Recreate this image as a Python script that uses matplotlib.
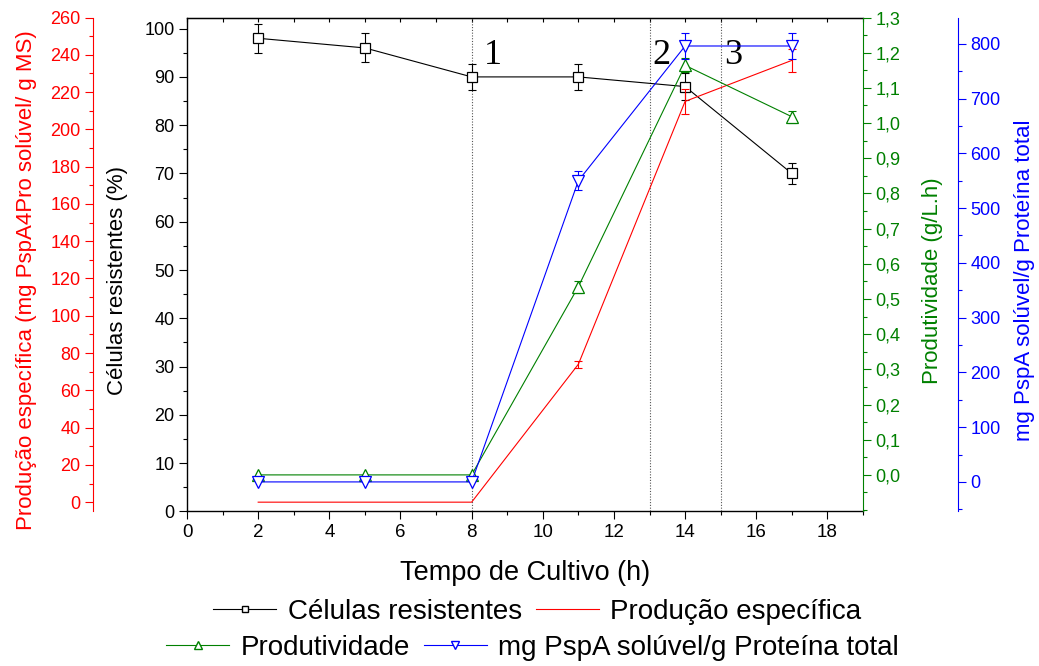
"""
Cultivo: células resistentes, produção específica, produtividade e PspA solúvel
- eixo principal (preto) + três eixos y extras (vermelho, verde, azul)
"""

import numpy as np
import matplotlib
matplotlib.use("Agg")
import matplotlib.pyplot as plt
from matplotlib.ticker import MultipleLocator, FixedLocator, FuncFormatter
from matplotlib.lines import Line2D

plt.rcParams["font.family"] = ["Liberation Sans", "DejaVu Sans"]

RED = "#FF0000"
GREEN = "#008000"
BLUE = "#0000FF"

# ---------------------------------------------------------------
# Dados
# ---------------------------------------------------------------
tempo = [2, 5, 8, 11, 14, 17]

celulas = [98, 96, 90, 90, 88, 70]
celulas_err = [3.0, 3.0, 2.7, 2.7, 2.8, 2.1]

producao = [0, 0, 0, 74, 215, 237]
producao_err = [0, 0, 0, 2.0, 6.9, 6.2]

produtividade = [0.0, 0.0, 0.0, 0.535, 1.164, 1.018]
produtividade_err = [0, 0, 0, 0.017, 0.02, 0.017]

pspa = [0, 0, 0, 550, 796, 796]
pspa_err = [0, 0, 0, 17, 24, 24]

fases_x = [8, 13, 15]
fases_lbl = ["1", "2", "3"]


def series(axis, y, err, color, marker=None, ms=8.5):
    axis.plot(tempo, y, color=color, lw=0.8, marker=marker, ms=ms,
              mfc="white", mec=color, mew=0.9, zorder=3)
    m = np.array(err) > 0
    axis.errorbar(np.array(tempo)[m], np.array(y)[m], yerr=np.array(err)[m],
                  fmt="none", ecolor=color, elinewidth=0.8, capsize=3.2,
                  capthick=0.8, zorder=2)


fig = plt.figure(figsize=(10.39, 6.66), dpi=100)
ax = fig.add_axes([0.180, 0.232, 0.6506, 0.7417])

# eixo preto (células)
series(ax, celulas, celulas_err, "black", "s", ms=7.5)
for xv in fases_x:
    ax.axvline(xv, color="#555555", ls=(0, (1, 1.5)), lw=0.8, zorder=1)
for xv, lbl in zip([8.6, 13.33, 15.34], fases_lbl):
    ax.text(xv, 92.6, lbl, family="Liberation Serif", fontsize=26,
            ha="center", va="baseline", zorder=5)

ax.set_xlim(0, 19)
ax.set_ylim(0, 102.3)
ax.xaxis.set_major_locator(MultipleLocator(2))
ax.xaxis.set_minor_locator(MultipleLocator(1))
ax.yaxis.set_major_locator(MultipleLocator(10))
ax.yaxis.set_minor_locator(MultipleLocator(5))
ax.tick_params(which="major", direction="out", length=5.5, width=0.8, labelsize=13)
ax.tick_params(which="minor", direction="out", length=3, width=0.8)
ax.tick_params(axis="x", labelsize=13.5)
ax.spines["right"].set_visible(False)
for s in ["left", "bottom", "top"]:
    ax.spines[s].set_linewidth(1.0)
ax.set_xlabel("Tempo de Cultivo (h)", fontsize=19.5, labelpad=14)
ax.set_ylabel("Células resistentes (%)", fontsize=16)
ax.yaxis.set_label_coords(-0.087, 0.468)

top = ax.secondary_xaxis("top")
top.xaxis.set_major_locator(MultipleLocator(1))
top.tick_params(direction="in", length=3, width=0.8, labeltop=False)

# eixo vermelho (produção específica) à esquerda
axr = ax.twinx()
series(axr, producao, producao_err, RED)
axr.set_ylim(-5, 260)
axr.yaxis.set_ticks_position("left")
axr.yaxis.set_label_position("left")
axr.spines["left"].set_position(("axes", -0.139))
axr.spines["left"].set_visible(True)
axr.spines["left"].set_color(RED)
for s in ["right", "top", "bottom"]:
    axr.spines[s].set_visible(False)
axr.yaxis.set_major_locator(MultipleLocator(20))
axr.yaxis.set_minor_locator(MultipleLocator(10))
axr.tick_params(axis="y", which="major", colors=RED, length=5.5, width=0.8, labelsize=13)
axr.tick_params(axis="y", which="minor", colors=RED, length=3, width=0.8)
axr.set_ylabel("Produção específica (mg PspA4Pro solúvel/ g MS)", fontsize=16, color=RED)
axr.yaxis.set_label_coords(-0.222, 0.468)

# eixo verde (produtividade)
axg = ax.twinx()
series(axg, produtividade, produtividade_err, GREEN, "^")
axg.set_ylim(-0.104, 1.3)
axg.yaxis.set_major_locator(FixedLocator(np.round(np.arange(0, 1.31, 0.1), 2)))
axg.yaxis.set_minor_locator(MultipleLocator(0.05))
axg.yaxis.set_major_formatter(FuncFormatter(lambda v, p: f"{v:.1f}".replace(".", ",")))
axg.spines["right"].set_color(GREEN)
for s in ["left", "top", "bottom"]:
    axg.spines[s].set_visible(False)
axg.tick_params(axis="y", which="major", colors=GREEN, length=5.5, width=0.8, labelsize=13)
axg.tick_params(axis="y", which="minor", colors=GREEN, length=3, width=0.8)
axg.set_ylabel("Produtividade (g/L.h)", fontsize=16, color=GREEN)
axg.yaxis.set_label_coords(1.087, 0.468)

# eixo azul (PspA solúvel / proteína total)
axb = ax.twinx()
series(axb, pspa, pspa_err, BLUE, "v")
axb.set_ylim(-54, 848)
axb.spines["right"].set_position(("axes", 1.1405))
axb.spines["right"].set_color(BLUE)
for s in ["left", "top", "bottom"]:
    axb.spines[s].set_visible(False)
axb.yaxis.set_major_locator(MultipleLocator(100))
axb.yaxis.set_minor_locator(MultipleLocator(50))
axb.tick_params(axis="y", which="major", colors=BLUE, length=5.5, width=0.8, labelsize=13)
axb.tick_params(axis="y", which="minor", colors=BLUE, length=3, width=0.8)
axb.set_ylabel("mg PspA solúvel/g Proteína total", fontsize=16, color=BLUE)
axb.yaxis.set_label_coords(1.223, 0.468)

# legenda em duas linhas centradas
leg_kw = dict(loc="center", ncol=2, frameon=False, fontsize=20, handlelength=2.27,
              handletextpad=0.4, columnspacing=0.5, borderpad=0, borderaxespad=0)
h1 = [Line2D([], [], color="black", lw=0.8, marker="s", ms=5, mfc="white"),
      Line2D([], [], color=RED, lw=0.8)]
h2 = [Line2D([], [], color=GREEN, lw=0.8, marker="^", ms=6, mfc="white"),
      Line2D([], [], color=BLUE, lw=0.8, marker="v", ms=6, mfc="white")]
fig.legend(h1, ["Células resistentes", "Produção específica"],
           bbox_to_anchor=(0.517, 0.081), **leg_kw)
fig.legend(h2, ["Produtividade", "mg PspA solúvel/g Proteína total"],
           bbox_to_anchor=(0.5125, 0.027), **leg_kw)

fig.savefig("out.png", dpi=100)
